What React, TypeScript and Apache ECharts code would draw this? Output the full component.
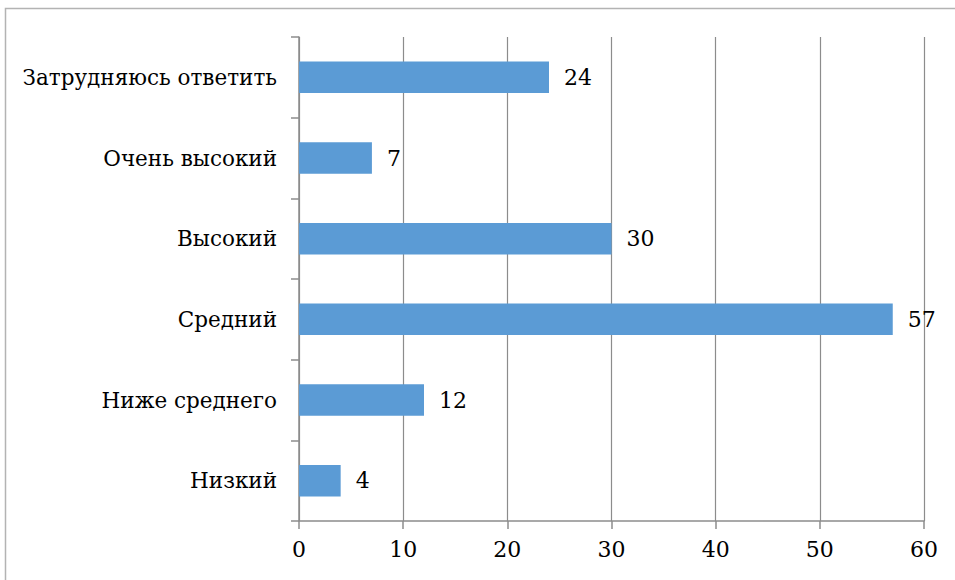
import React, { useEffect, useRef } from "react";
import * as echarts from "echarts";

const categories = ["Низкий", "Ниже среднего", "Средний", "Высокий", "Очень высокий", "Затрудняюсь ответить"];
const values = [4, 12, 57, 30, 7, 24];
const xTicks = [0, 10, 20, 30, 40, 50, 60];

const FONT = "DejaVu Serif";

export default function App() {
  const ref = useRef<HTMLDivElement>(null);
  useEffect(() => {
    if (!ref.current) return;
    const chart = echarts.init(ref.current, undefined, { renderer: "svg" });
    chart.setOption({
      animation: false,
      backgroundColor: "#ffffff",
      textStyle: { fontFamily: FONT },
      graphic: [
        {
          type: "rect",
          shape: { x: 5.5, y: 8.5, width: 1200, height: 1200 },
          style: { fill: "none", stroke: "#b3b3b3", lineWidth: 1.5 },
          silent: true,
        },
      ],
      grid: { left: 299, right: 31, top: 37, bottom: 59, containLabel: false },
      xAxis: {
        type: "value",
        min: xTicks[0],
        max: xTicks[xTicks.length - 1],
        interval: 10,
        axisLine: { show: true, lineStyle: { color: "#8c8c8c", width: 1.5 } },
        axisTick: { show: true, length: 8, lineStyle: { color: "#8c8c8c", width: 1.5 } },
        splitLine: { show: true, lineStyle: { color: "#8c8c8c", width: 1.2 } },
        axisLabel: { color: "#000", fontFamily: FONT, fontSize: 22, margin: 17 },
      },
      yAxis: {
        type: "category",
        data: categories,
        axisLine: { show: true, lineStyle: { color: "#8c8c8c", width: 1.5 } },
        axisTick: { show: true, length: 8, alignWithLabel: false, lineStyle: { color: "#8c8c8c", width: 1.5 } },
        axisLabel: { color: "#000", fontFamily: FONT, fontSize: 21.5, margin: 22 },
      },
      series: [
        {
          type: "bar",
          data: values,
          barWidth: "39%",
          itemStyle: { color: "#5b9bd5" },
          label: {
            show: true,
            position: "right",
            distance: 15,
            color: "#000",
            fontFamily: FONT,
            fontSize: 22,
          },
        },
      ],
    });
    return () => chart.dispose();
  }, []);
  return (
    <div
      ref={ref}
      style={{ position: "absolute", left: 0, top: 0, width: 955, height: 580 }}
    />
  );
}
